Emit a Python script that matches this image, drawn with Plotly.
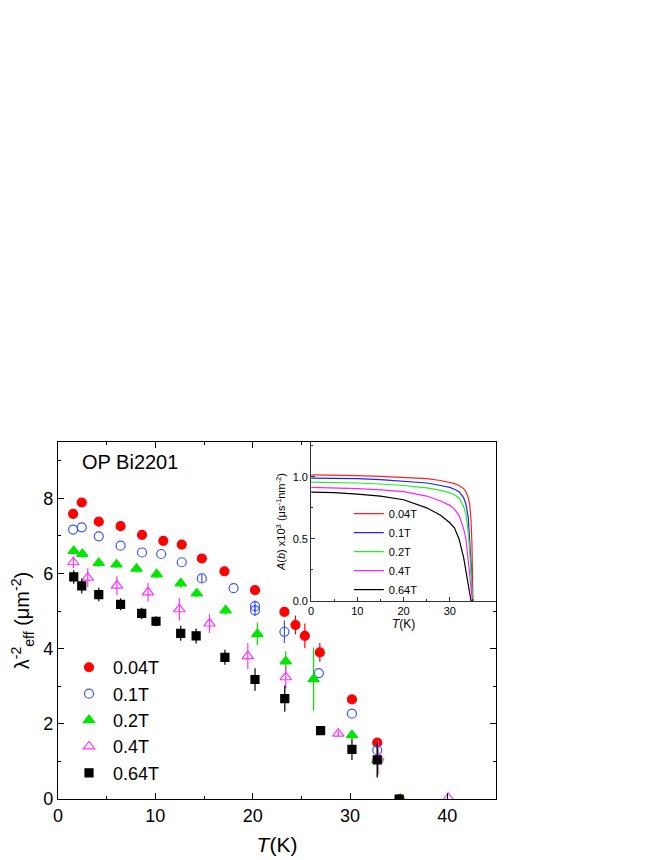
import plotly.graph_objects as go

# main panel: lambda_eff^-2 vs T for each field
t_004 = [1.55, 2.44, 4.19, 6.43, 8.63, 10.82, 12.71, 14.78, 17.1, 20.24, 23.26, 24.4, 25.36, 26.9, 30.2, 32.8, 35.1]
y_004 = [7.59, 7.89, 7.38, 7.26, 7.03, 6.87, 6.77, 6.40, 6.06, 5.56, 4.98, 4.63, 4.34, 3.90, 2.65, 1.50, 0.0]
e_004 = [0.08, 0.08, 0.08, 0.08, 0.08, 0.08, 0.08, 0.08, 0.08, 0.1, 0.12, 0.25, 0.33, 0.25, 0.1, 0.1, 0.0]

t_01 = [1.55, 2.44, 4.19, 6.43, 8.63, 10.6, 12.71, 14.78, 18.04, 20.24, 20.24, 23.26, 26.8, 30.2, 32.8]
y_01 = [7.17, 7.23, 6.99, 6.74, 6.56, 6.52, 6.30, 5.87, 5.61, 5.13, 5.02, 4.45, 3.35, 2.27, 1.30]
e_01 = [0, 0, 0, 0, 0, 0, 0, 0.1, 0, 0.15, 0.15, 0.3, 0, 0, 0.12]

t_02 = [1.62, 2.5, 4.19, 6.01, 8.07, 10.14, 12.61, 14.26, 17.22, 20.48, 23.4, 26.26, 30.2, 32.8, 35.2]
y_02 = [6.60, 6.52, 6.28, 6.24, 6.13, 5.98, 5.74, 5.47, 5.02, 4.39, 3.66, 3.19, 1.70, 1.04, 0.0]
e_02 = [0.1, 0.1, 0.1, 0.1, 0.1, 0.1, 0.12, 0.1, 0.12, 0.3, 0.27, 0.84, 0.1, 0.45, 0.0]

t_04 = [1.58, 3.06, 6.05, 9.25, 12.47, 15.57, 19.5, 23.4, 28.8, 32.9, 40.1]
y_04 = [6.30, 5.89, 5.68, 5.50, 5.05, 4.67, 3.80, 3.24, 1.74, 1.10, 0.03]
e_04 = [0.15, 0.25, 0.25, 0.25, 0.3, 0.25, 0.35, 0.3, 0.08, 0.45, 0.0]

t_064 = [1.62, 2.44, 4.19, 6.43, 8.6, 10.07, 12.61, 14.19, 17.15, 20.24, 23.3, 26.98, 30.2, 32.8, 35.05]
y_064 = [5.91, 5.67, 5.44, 5.18, 4.94, 4.73, 4.41, 4.34, 3.77, 3.18, 2.67, 1.82, 1.32, 1.04, 0.0]
e_064 = [0.18, 0.2, 0.18, 0.16, 0.15, 0.13, 0.2, 0.2, 0.2, 0.3, 0.35, 0.1, 0.28, 0.47, 0.0]

# inset: A(b) curves
t_fit = [0, 5, 10, 15, 20, 25, 28, 30, 31, 32, 33, 33.5, 34, 34.3, 34.6, 34.8, 34.9, 35]
a_004 = [1.015, 1.014, 1.01, 1.003, 0.995, 0.985, 0.97, 0.955, 0.945, 0.93, 0.905, 0.88, 0.83, 0.78, 0.65, 0.45, 0.25, 0.0]
a_01 = [0.99, 0.988, 0.985, 0.977, 0.965, 0.95, 0.93, 0.915, 0.90, 0.88, 0.83, 0.78, 0.67, 0.5, 0.3, 0.1, 0.03, 0.0]
a_02 = [0.957, 0.955, 0.95, 0.942, 0.93, 0.91, 0.89, 0.87, 0.855, 0.83, 0.76, 0.70, 0.55, 0.40, 0.18, 0.05, 0.01, 0.0]
a_04 = [0.915, 0.912, 0.905, 0.895, 0.88, 0.845, 0.805, 0.77, 0.74, 0.69, 0.58, 0.50, 0.33, 0.22, 0.08, 0.02, 0.0, 0.0]
a_064 = [0.877, 0.872, 0.86, 0.845, 0.815, 0.75, 0.69, 0.63, 0.59, 0.50, 0.35, 0.24, 0.10, 0.04, 0.0, 0.0, 0.0, 0.0]

labels = ["0.04T", "0.1T", "0.2T", "0.4T", "0.64T"]
inset_xticks = [0, 10, 20, 30]

FONT = "Liberation Sans, Arial, sans-serif"

fig = go.Figure()

series = [
    (t_004, y_004, e_004, "#ff0000", "circle", 9),
    (t_01, y_01, e_01, "#3a55ff", "circle-open", 9),
    (t_02, y_02, e_02, "#00e600", "triangle-up", 10),
    (t_04, y_04, e_04, "#ff33ff", "triangle-up-open", 10),
    (t_064, y_064, e_064, "#000000", "square", 8),
]
for (tx, yy, ee, col, sym, sz), name in zip(series, labels):
    fig.add_trace(go.Scatter(
        x=tx, y=yy, mode="markers", name=name,
        marker=dict(color=col, symbol=sym, size=sz, line=dict(color=col, width=1.2)),
        error_y=dict(type="data", array=ee, color=col, thickness=1.2, width=0),
        legend="legend",
    ))

fits = [a_004, a_01, a_02, a_04, a_064]
fit_cols = ["#ff2020", "#2020ff", "#20f020", "#ff20ff", "#000000"]
for aa, col, name in zip(fits, fit_cols, labels):
    fig.add_trace(go.Scatter(
        x=t_fit, y=aa, mode="lines", name=name,
        line=dict(color=col, width=1.2),
        xaxis="x2", yaxis="y2", legend="legend2",
    ))

axis_common = dict(
    showline=True, linecolor="black", linewidth=1.2, mirror="allticks",
    ticks="inside", ticklen=6, tickwidth=1.2, tickcolor="black",
    showgrid=False, zeroline=False, automargin=False,
    tickfont=dict(family=FONT, size=18, color="black"),
)

# page body adds an 8px offset, so margins are 8px smaller on left/top
fig.update_layout(
    width=664, height=860,
    margin=dict(l=50, r=176, t=434, b=69),
    paper_bgcolor="white", plot_bgcolor="white",
    font=dict(family=FONT, color="black"),
    showlegend=True,
    xaxis=dict(
        range=[0, 45], dtick=10, tick0=0,
        minor=dict(dtick=5, ticks="inside", ticklen=3, tickwidth=1.2, tickcolor="black"),
        title=dict(text="<i>T</i>(K)", font=dict(family=FONT, size=21), standoff=12),
        **axis_common,
    ),
    yaxis=dict(
        range=[0, 9.5], dtick=2, tick0=0,
        minor=dict(dtick=1, ticks="inside", ticklen=3, tickwidth=1.2, tickcolor="black"),
        title=dict(text="λ<sup>-2</sup><sub>eff</sub> (μm<sup>-2</sup>)",
                   font=dict(family=FONT, size=20), standoff=12),
        **axis_common,
    ),
    xaxis2=dict(
        domain=[0.578, 1.0], anchor="y2", range=[0, 40],
        tickmode="array", tickvals=inset_xticks,
        showline=True, linecolor="#333333", linewidth=1, mirror=False,
        ticks="inside", ticklen=4, tickwidth=1, tickcolor="#333333",
        minor=dict(dtick=5, tick0=0, ticks="inside", ticklen=2, tickcolor="#333333"),
        showgrid=False, zeroline=False, automargin=False,
        tickfont=dict(family=FONT, size=11, color="black"),
        title=dict(text="<i>T</i>(K)", font=dict(family=FONT, size=12), standoff=2),
    ),
    yaxis2=dict(
        domain=[0.5546, 1.0], anchor="x2", range=[0, 1.28], dtick=0.5, tick0=0,
        tickformat=".1f",
        showline=True, linecolor="#333333", linewidth=1, mirror=False,
        ticks="inside", ticklen=4, tickwidth=1, tickcolor="#333333",
        minor=dict(dtick=0.25, ticks="inside", ticklen=2, tickcolor="#333333"),
        showgrid=False, zeroline=False, automargin=False,
        tickfont=dict(family=FONT, size=11, color="black"),
        title=dict(text="<i>A</i>(<i>b</i>) x10<sup>3</sup> (μs<sup>-1</sup>nm<sup>-2</sup>)",
                   font=dict(family=FONT, size=11), standoff=4),
    ),
    legend=dict(
        x=0.016, y=0.42, xanchor="left", yanchor="top",
        font=dict(family=FONT, size=18), bgcolor="rgba(0,0,0,0)",
        itemwidth=38,
    ),
    legend2=dict(
        x=0.664, y=0.84, xanchor="left", yanchor="top",
        font=dict(family=FONT, size=11), bgcolor="rgba(0,0,0,0)",
    ),
    annotations=[dict(
        text="OP Bi2201", xref="paper", yref="paper", x=0.05, y=0.944,
        xanchor="left", yanchor="middle", showarrow=False,
        font=dict(family=FONT, size=20, color="black"),
    )],
)

fig.write_html("out.html")
